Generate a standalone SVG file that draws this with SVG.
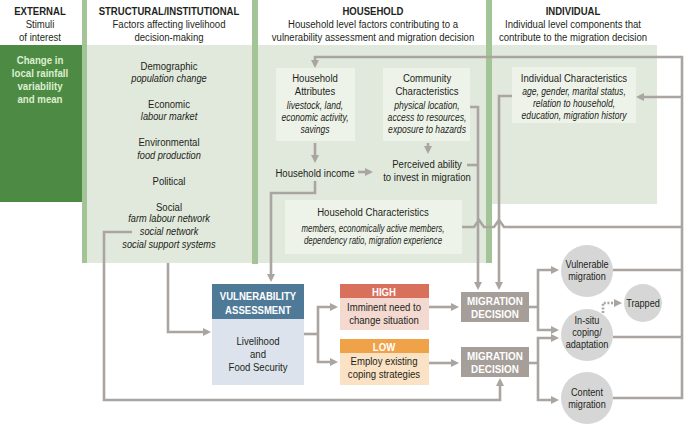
<svg xmlns="http://www.w3.org/2000/svg" width="685" height="425" viewBox="0 0 685 425">
<style>
.t{font-family:'Liberation Sans',Arial,sans-serif;font-size:11px;fill:#231f20;text-anchor:middle;transform-box:fill-box;transform-origin:center;transform:scaleX(.87)}
.b{font-weight:bold}
.i{font-style:italic;font-size:10px;transform:scaleX(.86)}
.si{font-size:10.5px;transform:scaleX(.88)}
.hc{transform:scaleX(.79)}
.w{fill:#fff}
.g{fill:#dcefcf;font-size:11.5px;transform:scaleX(.84)}
.c{font-size:10.5px}
.m{font-size:11.5px;transform:scaleX(.86)}
.bar{fill:#a2c496}
.bg{fill:#e1e9dc}
.box{fill:#eef3ea}
.ln{fill:none;stroke:#aaa5a1;stroke-width:2.6}
.ar{marker-end:url(#ah)}
.dot{fill:none;stroke:#aaa5a1;stroke-width:2.6;stroke-dasharray:2 1.6}
.circ{fill:#d6d6d6}
.md{fill:#a69e99}
</style>
<defs>
<marker id="ah" markerUnits="userSpaceOnUse" markerWidth="8" markerHeight="8" refX="5" refY="4" orient="auto">
<path d="M0,0 L8,4 L0,8 z" fill="#aaa5a1"/>
</marker>
</defs>

<g id="columns">
<rect x="87" y="45" width="166" height="218" class="bg"/>
<rect x="258" y="45" width="228" height="218" class="bg"/>
<rect x="492" y="45" width="165" height="159" class="bg"/>
<rect x="82" y="0" width="5" height="263" class="bar"/>
<rect x="252" y="0" width="6" height="264" class="bar"/>
<rect x="486" y="0" width="6" height="263" class="bar"/>
</g>

<g id="header-external">
<text class="t b" x="40" y="15">EXTERNAL</text>
<text class="t" x="40" y="28">Stimuli</text>
<text class="t" x="40" y="41">of interest</text>
</g>
<g id="header-structural">
<text class="t b" x="169" y="15">STRUCTURAL/INSTITUTIONAL</text>
<text class="t" x="169" y="28">Factors affecting livelihood</text>
<text class="t" x="169" y="41">decision-making</text>
</g>
<g id="header-household">
<text class="t b" x="373" y="15">HOUSEHOLD</text>
<text class="t" x="373" y="28">Household level factors contributing to a</text>
<text class="t" x="373" y="41">vulnerability assessment and migration decision</text>
</g>
<g id="header-individual">
<text class="t b" x="573" y="15">INDIVIDUAL</text>
<text class="t" x="573" y="28">Individual level components that</text>
<text class="t" x="573" y="41">contribute to the migration decision</text>
</g>

<g id="external-stimulus">
<rect x="0" y="45" width="82" height="157" fill="#4d8b45"/>
<text class="t b g" x="40" y="64">Change in</text>
<text class="t b g" x="40" y="77">local rainfall</text>
<text class="t b g" x="40" y="90">variability</text>
<text class="t b g" x="40" y="103">and mean</text>
</g>

<g id="structural-factors">
<text class="t" x="169" y="70">Demographic</text>
<text class="t i si" x="169" y="82">population change</text>
<text class="t" x="169" y="108">Economic</text>
<text class="t i si" x="169" y="120">labour market</text>
<text class="t" x="169" y="146">Environmental</text>
<text class="t i si" x="169" y="159">food production</text>
<text class="t" x="169" y="185">Political</text>
<text class="t" x="169" y="211">Social</text>
<text class="t i si" x="169" y="222">farm labour network</text>
<text class="t i si" x="169" y="235">social network</text>
<text class="t i si" x="169" y="248">social support systems</text>
</g>

<g id="household-attributes">
<rect x="276" y="68" width="79" height="73" class="box"/>
<text class="t" x="315" y="82">Household</text>
<text class="t" x="315" y="95">Attributes</text>
<text class="t i" x="315" y="109">livestock, land,</text>
<text class="t i" x="315" y="121">economic activity,</text>
<text class="t i" x="315" y="133">savings</text>
</g>

<g id="community-characteristics">
<rect x="383" y="68" width="87" height="73" class="box"/>
<text class="t" x="427" y="82">Community</text>
<text class="t" x="427" y="95">Characteristics</text>
<text class="t i" x="427" y="109">physical location,</text>
<text class="t i" x="427" y="121">access to resources,</text>
<text class="t i" x="427" y="133">exposure to hazards</text>
</g>

<g id="household-income">
<text class="t" x="315" y="177">Household income</text>
</g>

<g id="perceived-ability">
<text class="t" x="427" y="168">Perceived ability</text>
<text class="t" x="427" y="181">to invest in migration</text>
</g>

<g id="household-characteristics">
<rect x="285" y="200" width="177" height="54" class="box"/>
<text class="t" x="373" y="216">Household Characteristics</text>
<text class="t i hc" x="373" y="232">members, economically active members,</text>
<text class="t i hc" x="373" y="244">dependency ratio, migration experience</text>
</g>

<g id="individual-characteristics">
<rect x="512" y="67" width="124" height="56" class="box"/>
<text class="t" x="574" y="82">Individual Characteristics</text>
<text class="t i" x="574" y="95">age, gender, marital status,</text>
<text class="t i" x="574" y="107">relation to household,</text>
<text class="t i" x="574" y="119">education, migration history</text>
</g>

<g id="connectors">
<path class="ln ar" d="M613,398 H682 V57 H315 V65"/>
<path class="ln" d="M613,270 H682"/>
<path class="ln" d="M613,337 H682"/>
<path class="ln ar" d="M682,97 H639"/>
<path class="ln" d="M462,227 H474 L479,220 L484,227 H494 L499,220 L504,227 H682"/>
<path class="ln ar" d="M470,107 H478 V287"/>
<path class="ln" d="M467,165 H478"/>
<path class="ln ar" d="M512,96 H499 V287"/>
<path class="ln ar" d="M315,143 V160"/>
<path class="ln ar" d="M358,172 H370"/>
<path class="ln ar" d="M428,143 V151"/>
<path class="ln ar" d="M315,181 V193 H271 V279"/>
<path class="ln ar" d="M168,263 V332 H208"/>
<path class="ln ar" d="M132,232 H104 V400 H500 V381"/>
<path class="ln" d="M304,334 H318"/>
<path class="ln ar" d="M318,334 V307 H335"/>
<path class="ln ar" d="M318,334 V362 H335"/>
<path class="ln ar" d="M429,307 H456"/>
<path class="ln ar" d="M429,363 H456"/>
<path class="ln" d="M529,307 H538"/>
<path class="ln ar" d="M538,307 V270 H556"/>
<path class="ln ar" d="M538,307 V330 H556"/>
<path class="ln" d="M529,363 H538"/>
<path class="ln ar" d="M538,363 V338 H556"/>
<path class="ln ar" d="M538,363 V400 H556"/>
<path class="dot ar" d="M603,313 V303 H619"/>
</g>

<g id="vulnerability-assessment">
<rect x="212" y="284" width="92" height="35" fill="#4e7a98"/>
<rect x="212" y="319" width="92" height="66" fill="#dce3ec"/>
<text class="t b w" x="258" y="300">VULNERABILITY</text>
<text class="t b w" x="258" y="314">ASSESSMENT</text>
<text class="t" x="258" y="345">Livelihood</text>
<text class="t" x="258" y="358">and</text>
<text class="t" x="258" y="371">Food Security</text>
</g>

<g id="high">
<rect x="340" y="284" width="89" height="14" fill="#d9705b"/>
<rect x="340" y="298" width="89" height="32" fill="#f4d9d0"/>
<text class="t b w" x="384" y="296">HIGH</text>
<text class="t" x="384" y="311">Imminent need to</text>
<text class="t" x="384" y="324">change situation</text>
</g>

<g id="low">
<rect x="340" y="339" width="89" height="14" fill="#f0a248"/>
<rect x="340" y="353" width="89" height="32" fill="#fbe2c4"/>
<text class="t b w" x="384" y="351">LOW</text>
<text class="t" x="384" y="365">Employ existing</text>
<text class="t" x="384" y="378">coping strategies</text>
</g>

<g id="migration-decision-1">
<rect x="461" y="292" width="68" height="30" class="md"/>
<text class="t b w m" x="495" y="305">MIGRATION</text>
<text class="t b w m" x="495" y="318">DECISION</text>
</g>

<g id="migration-decision-2">
<rect x="461" y="347" width="68" height="30" class="md"/>
<text class="t b w m" x="495" y="360">MIGRATION</text>
<text class="t b w m" x="495" y="373">DECISION</text>
</g>

<g id="vulnerable-migration">
<circle cx="587" cy="271" r="26" class="circ"/>
<text class="t c" x="587" y="268">Vulnerable</text>
<text class="t c" x="587" y="280">migration</text>
</g>

<g id="in-situ">
<circle cx="587" cy="335" r="26" class="circ"/>
<text class="t c" x="587" y="324">In-situ</text>
<text class="t c" x="587" y="336">coping/</text>
<text class="t c" x="587" y="348">adaptation</text>
</g>

<g id="trapped">
<circle cx="643" cy="303" r="19" class="circ"/>
<text class="t c" x="643" y="307">Trapped</text>
</g>

<g id="content-migration">
<circle cx="587" cy="398" r="26" class="circ"/>
<text class="t c" x="587" y="396">Content</text>
<text class="t c" x="587" y="408">migration</text>
</g>
</svg>
